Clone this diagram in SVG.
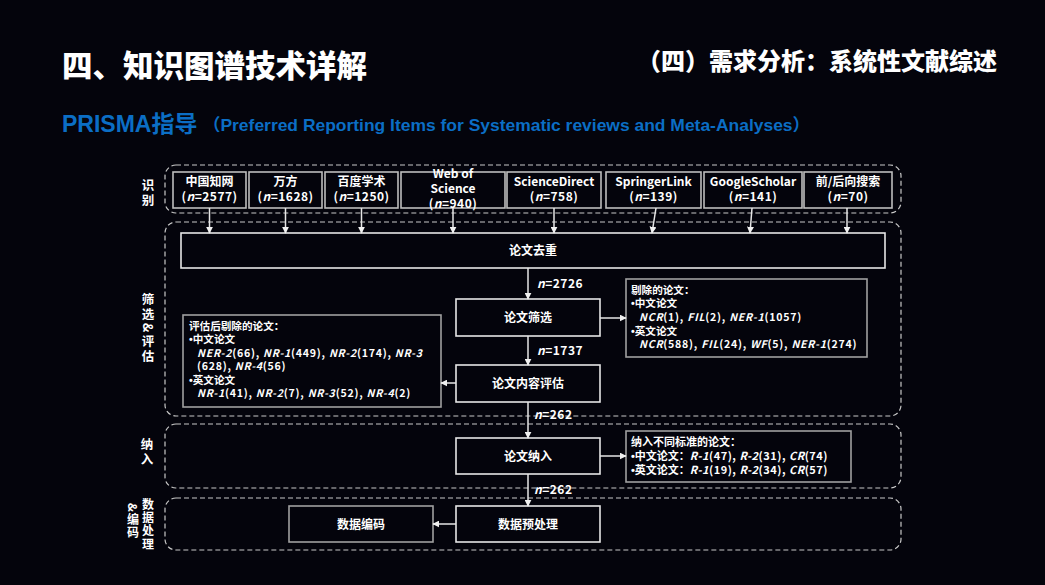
<svg xmlns="http://www.w3.org/2000/svg" width="1045" height="585" viewBox="0 0 1045 585">
<style>
.bg{fill:#04040c}
.t{font-family:"Noto Sans CJK SC","Liberation Sans",sans-serif;font-weight:bold;fill:#fff}
.sec{fill:none;stroke:#c8c8c8;stroke-width:1.2;stroke-dasharray:5 3}
.box{fill:#04040c;stroke:#e6e6e6;stroke-width:1.6}
.sbox{fill:#04040c;stroke:#bdbdbd;stroke-width:1.6}
.gbox{fill:#04040c;stroke:#a0a0a0;stroke-width:1.6}
.c{font-size:12px;text-anchor:middle}
.s{font-size:11px}
.s2{font-size:10.6px}
.lat{letter-spacing:0.5px}
.lat2{letter-spacing:0.75px}
.b{font-family:"Liberation Sans",sans-serif}
.i{font-style:italic}
.v{writing-mode:vertical-rl;font-size:12.5px;letter-spacing:2.5px}
.v2{writing-mode:vertical-rl;font-size:12px;letter-spacing:1.4px}
.ln{stroke:#e6e6e6;stroke-width:1.5;fill:none}
</style>
<defs>
<marker id="ah" viewBox="0 0 10 10" refX="9" refY="5" markerWidth="7" markerHeight="7" orient="auto" markerUnits="userSpaceOnUse">
<path d="M0,0 L10,5 L0,10 z" fill="#f0f0f0"/>
</marker>
</defs>
<rect class="bg" x="0" y="0" width="1045" height="585"/>

<g id="title">
<text x="62" y="77" font-family="'Noto Sans CJK SC',sans-serif" font-weight="900" font-size="30.5" fill="#fff">四、知识图谱技术详解</text>
<text x="997" y="70" text-anchor="end" font-family="'Noto Sans CJK SC',sans-serif" font-weight="900" font-size="24" fill="#fff">（四）需求分析：系统性文献综述</text>
<text x="62" y="132" font-family="'Liberation Sans','Noto Sans CJK SC',sans-serif" font-weight="bold" font-size="23" fill="#0b6ec5">PRISMA指导</text>
<text x="203" y="131" font-family="'Liberation Sans','Noto Sans CJK SC',sans-serif" font-weight="bold" font-size="17" fill="#0b6ec5" textLength="607" lengthAdjust="spacingAndGlyphs">（Preferred Reporting Items for Systematic reviews and Meta-Analyses）</text>
</g>

<g id="sections">
<rect class="sec" x="165" y="165" width="736" height="48" rx="11"/>
<rect class="sec" x="165" y="222" width="736" height="194" rx="11"/>
<rect class="sec" x="165" y="424" width="736" height="64" rx="11"/>
<rect class="sec" x="165" y="498" width="736" height="52" rx="11"/>
</g>

<g id="stage-labels">
<text class="t v" x="148" y="179">识别</text>
<text class="t v" x="148" y="293">筛选&amp;评估</text>
<text class="t v" x="147" y="438">纳入</text>
<text class="t v2" x="148" y="498">数据处理</text>
<text class="t v2" x="133" y="503">&amp;编码</text>
</g>

<g id="src-cnki"><rect class="sbox" x="173" y="172" width="73" height="36"/>
<text class="t c" x="209.5" y="186">中国知网<tspan class="lat" x="209.5" dy="15">(<tspan class="i">n</tspan>=2577)</tspan></text></g>
<g id="src-wanfang"><rect class="sbox" x="249" y="172" width="73" height="36"/>
<text class="t c" x="285.5" y="186">万方<tspan class="lat" x="285.5" dy="15">(<tspan class="i">n</tspan>=1628)</tspan></text></g>
<g id="src-baidu"><rect class="sbox" x="325" y="172" width="73" height="36"/>
<text class="t c" x="361.5" y="186">百度学术<tspan class="lat" x="361.5" dy="15">(<tspan class="i">n</tspan>=1250)</tspan></text></g>
<g id="src-wos"><rect class="sbox" x="401" y="172" width="104" height="36"/>
<text class="t c" x="453" y="178">Web of<tspan x="453" dy="15">Science</tspan><tspan class="lat" x="453" dy="15">(<tspan class="i">n</tspan>=940)</tspan></text></g>
<g id="src-sd"><rect class="sbox" x="507" y="172" width="94" height="36"/>
<text class="t c" x="554" y="186">ScienceDirect<tspan class="lat" x="554" dy="15">(<tspan class="i">n</tspan>=758)</tspan></text></g>
<g id="src-springer"><rect class="sbox" x="606" y="172" width="95" height="36"/>
<text class="t c" x="653.5" y="186">SpringerLink<tspan class="lat" x="653.5" dy="15">(<tspan class="i">n</tspan>=139)</tspan></text></g>
<g id="src-google"><rect class="sbox" x="704" y="172" width="98" height="36"/>
<text class="t c" x="753" y="186">GoogleScholar<tspan class="lat" x="753" dy="15">(<tspan class="i">n</tspan>=141)</tspan></text></g>
<g id="src-refs"><rect class="sbox" x="804" y="172" width="88" height="36"/>
<text class="t c" x="848" y="186">前/后向搜索<tspan class="lat" x="848" dy="15">(<tspan class="i">n</tspan>=70)</tspan></text></g>

<g id="dedup"><rect class="box" x="181" y="233" width="704" height="35"/>
<text class="t c" x="533" y="255">论文去重</text></g>
<g id="screen"><rect class="box" x="456" y="299" width="144" height="37"/>
<text class="t c" x="528" y="322">论文筛选</text></g>
<g id="eval"><rect class="box" x="456" y="365" width="144" height="37"/>
<text class="t c" x="528" y="388">论文内容评估</text></g>
<g id="include"><rect class="box" x="456" y="438" width="144" height="36"/>
<text class="t c" x="528" y="461">论文纳入</text></g>
<g id="preprocess"><rect class="box" x="456" y="506" width="144" height="36"/>
<text class="t c" x="528" y="529">数据预处理</text></g>
<g id="encode"><rect class="gbox" x="289" y="506" width="144" height="36"/>
<text class="t c" x="361" y="529">数据编码</text></g>

<g id="excluded-screen"><rect class="gbox" x="626" y="279" width="241" height="78"/>
<text class="t s2" x="631" y="293.5">剔除的论文：<tspan x="631" dy="13.7"><tspan class="b">•</tspan>中文论文</tspan><tspan class="lat2" x="639" dy="13.7"><tspan class="i">NCR</tspan>(1), <tspan class="i">FIL</tspan>(2), <tspan class="i">NER-1</tspan>(1057)</tspan><tspan x="631" dy="13.7"><tspan class="b">•</tspan>英文论文</tspan><tspan class="lat2" x="639" dy="13.7"><tspan class="i">NCR</tspan>(588), <tspan class="i">FIL</tspan>(24), <tspan class="i">WF</tspan>(5), <tspan class="i">NER-1</tspan>(274)</tspan></text>
</g>
<g id="excluded-eval"><rect class="gbox" x="183" y="315" width="258" height="92"/>
<text class="t s2" x="189" y="329.5">评估后剔除的论文：<tspan x="189" dy="13.5"><tspan class="b">•</tspan>中文论文</tspan><tspan class="lat2" x="197" dy="13.5"><tspan class="i">NER-2</tspan>(66), <tspan class="i">NR-1</tspan>(449), <tspan class="i">NR-2</tspan>(174), <tspan class="i">NR-3</tspan></tspan><tspan class="lat2" x="197" dy="13.5">(628), <tspan class="i">NR-4</tspan>(56)</tspan><tspan x="189" dy="13.5"><tspan class="b">•</tspan>英文论文</tspan><tspan class="lat2" x="197" dy="13.5"><tspan class="i">NR-1</tspan>(41), <tspan class="i">NR-2</tspan>(7), <tspan class="i">NR-3</tspan>(52), <tspan class="i">NR-4</tspan>(2)</tspan></text>
</g>
<g id="included-criteria"><rect class="gbox" x="626" y="431" width="225" height="51"/>
<text class="t s" x="631" y="446">纳入不同标准的论文：<tspan x="631" dy="14"><tspan class="b">•</tspan>中文论文：<tspan class="lat"><tspan class="i">R-1</tspan>(47), <tspan class="i">R-2</tspan>(31), <tspan class="i">CR</tspan>(74)</tspan></tspan><tspan x="631" dy="14"><tspan class="b">•</tspan>英文论文：<tspan class="lat"><tspan class="i">R-1</tspan>(19), <tspan class="i">R-2</tspan>(34), <tspan class="i">CR</tspan>(57)</tspan></tspan></text>
</g>

<g id="connectors" class="ln" marker-end="url(#ah)">
<line x1="209.5" y1="208" x2="209.5" y2="233"/>
<line x1="285.5" y1="208" x2="285.5" y2="233"/>
<line x1="361.5" y1="208" x2="361.5" y2="233"/>
<line x1="453" y1="208" x2="453" y2="233"/>
<line x1="554" y1="208" x2="554" y2="233"/>
<line x1="656" y1="208" x2="652" y2="233"/>
<line x1="752" y1="208" x2="750" y2="233"/>
<line x1="847" y1="208" x2="847" y2="233"/>
<line x1="528" y1="268" x2="528" y2="299"/>
<line x1="528" y1="336" x2="528" y2="365"/>
<line x1="528" y1="402" x2="528" y2="438"/>
<line x1="528" y1="474" x2="528" y2="506"/>
<line x1="600" y1="318" x2="626" y2="318"/>
<line x1="456" y1="383" x2="441" y2="383"/>
<line x1="600" y1="456" x2="626" y2="456"/>
<line x1="456" y1="524" x2="433" y2="524"/>
</g>

<g id="counts" class="t lat" font-size="12">
<text x="537" y="288"><tspan class="i">n</tspan>=2726</text>
<text x="537" y="355"><tspan class="i">n</tspan>=1737</text>
<text x="534" y="419"><tspan class="i">n</tspan>=262</text>
<text x="534" y="494"><tspan class="i">n</tspan>=262</text>
</g>
</svg>
